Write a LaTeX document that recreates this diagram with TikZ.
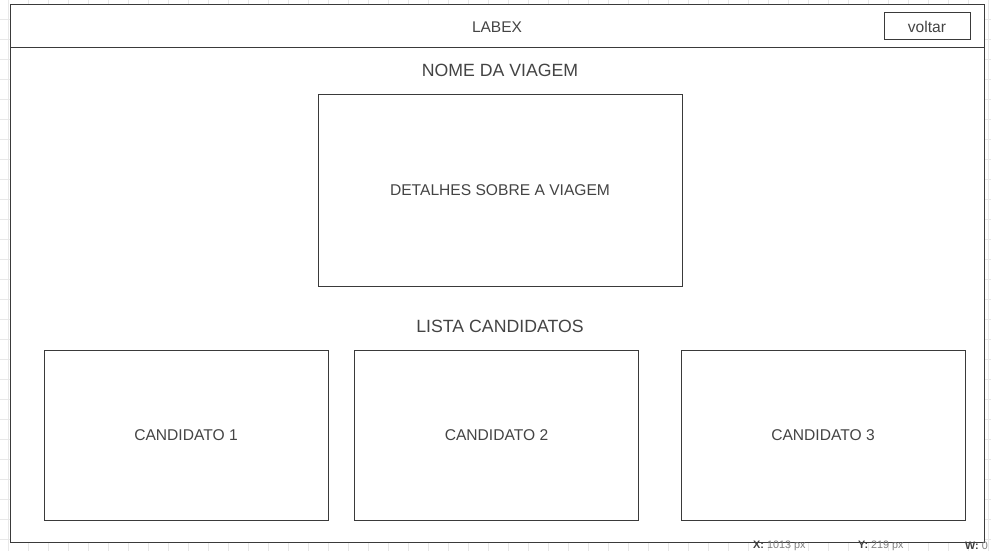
\documentclass[tikz,border=0pt]{standalone}
\usepackage{fontspec}
\setmainfont{Liberation Sans}
\usetikzlibrary{calc}
\usetikzlibrary{positioning}
\definecolor{linegray}{HTML}{3A3A3A}
\definecolor{textgray}{HTML}{444444}
\definecolor{gridgray}{HTML}{E8E8E8}
\tikzset{
  box/.style={draw=linegray, line width=1pt, fill=white, text=textgray, inner sep=0pt,
    font=\fontsize{15.6}{18}\selectfont},
  title/.style={text=textgray, inner sep=0pt, font=\fontsize{17.7}{20}\selectfont},
  status/.style={text=gray, inner sep=0pt, anchor=west, font=\fontsize{10.8}{12}\selectfont}
}
\begin{document}
\begin{tikzpicture}[x=1pt, y=-1pt]
\useasboundingbox (0,0) rectangle (991,551);
\fill[white] (0,0) rectangle (991,551);
% background grid
\foreach \x in {8,28,...,988} {
 \draw[gridgray, line width=0.7pt] (\x,0) --++(0,551);
}
\foreach \y in {19,39,...,539} {
 \draw[gridgray, line width=0.7pt] (0,\y) --++(991,0);
}
% page frame and header
\coordinate (tl) at (10,5);
\coordinate (br) at (984,542);
\draw[linegray, line width=1pt, fill=white] (tl) rectangle (br);
\coordinate (hl) at (10,48);
\coordinate (hr) at (984,48);
\draw[linegray, line width=1pt] (hl) -- (hr);
\node[text=textgray, inner sep=0pt, font=\fontsize{15.5}{18}\selectfont] (labex) at (497,27) {LABEX};
\node[box, minimum width=86pt, minimum height=27pt] (voltar) at (927,26.5) {voltar};
% trip
\node[title] (nome) at (500,70) {NOME DA VIAGEM};
\node[box, minimum width=364pt, minimum height=191pt] (detalhes) at (500,190.5) {DETALHES SOBRE A VIAGEM};
% candidates
\node[title] (lista) at (500,326) {LISTA CANDIDATOS};
\foreach \n/\x in {1/186, 2/496.5, 3/823} {
 \node[box, minimum width=284pt, minimum height=170pt] (cand\n) at (\x,435) {CANDIDATO \n};
}
% status bar
\node[status] (sx) at (753,545.5) {\textbf{\color{darkgray}X:} 1013 px};
\node[status] (sy) at (858,545.5) {\textbf{\color{darkgray}Y:} 219 px};
\node[status] (sw) at (965,545.5) {\textbf{\color{darkgray}W:} 0};
\end{tikzpicture}
\end{document}
